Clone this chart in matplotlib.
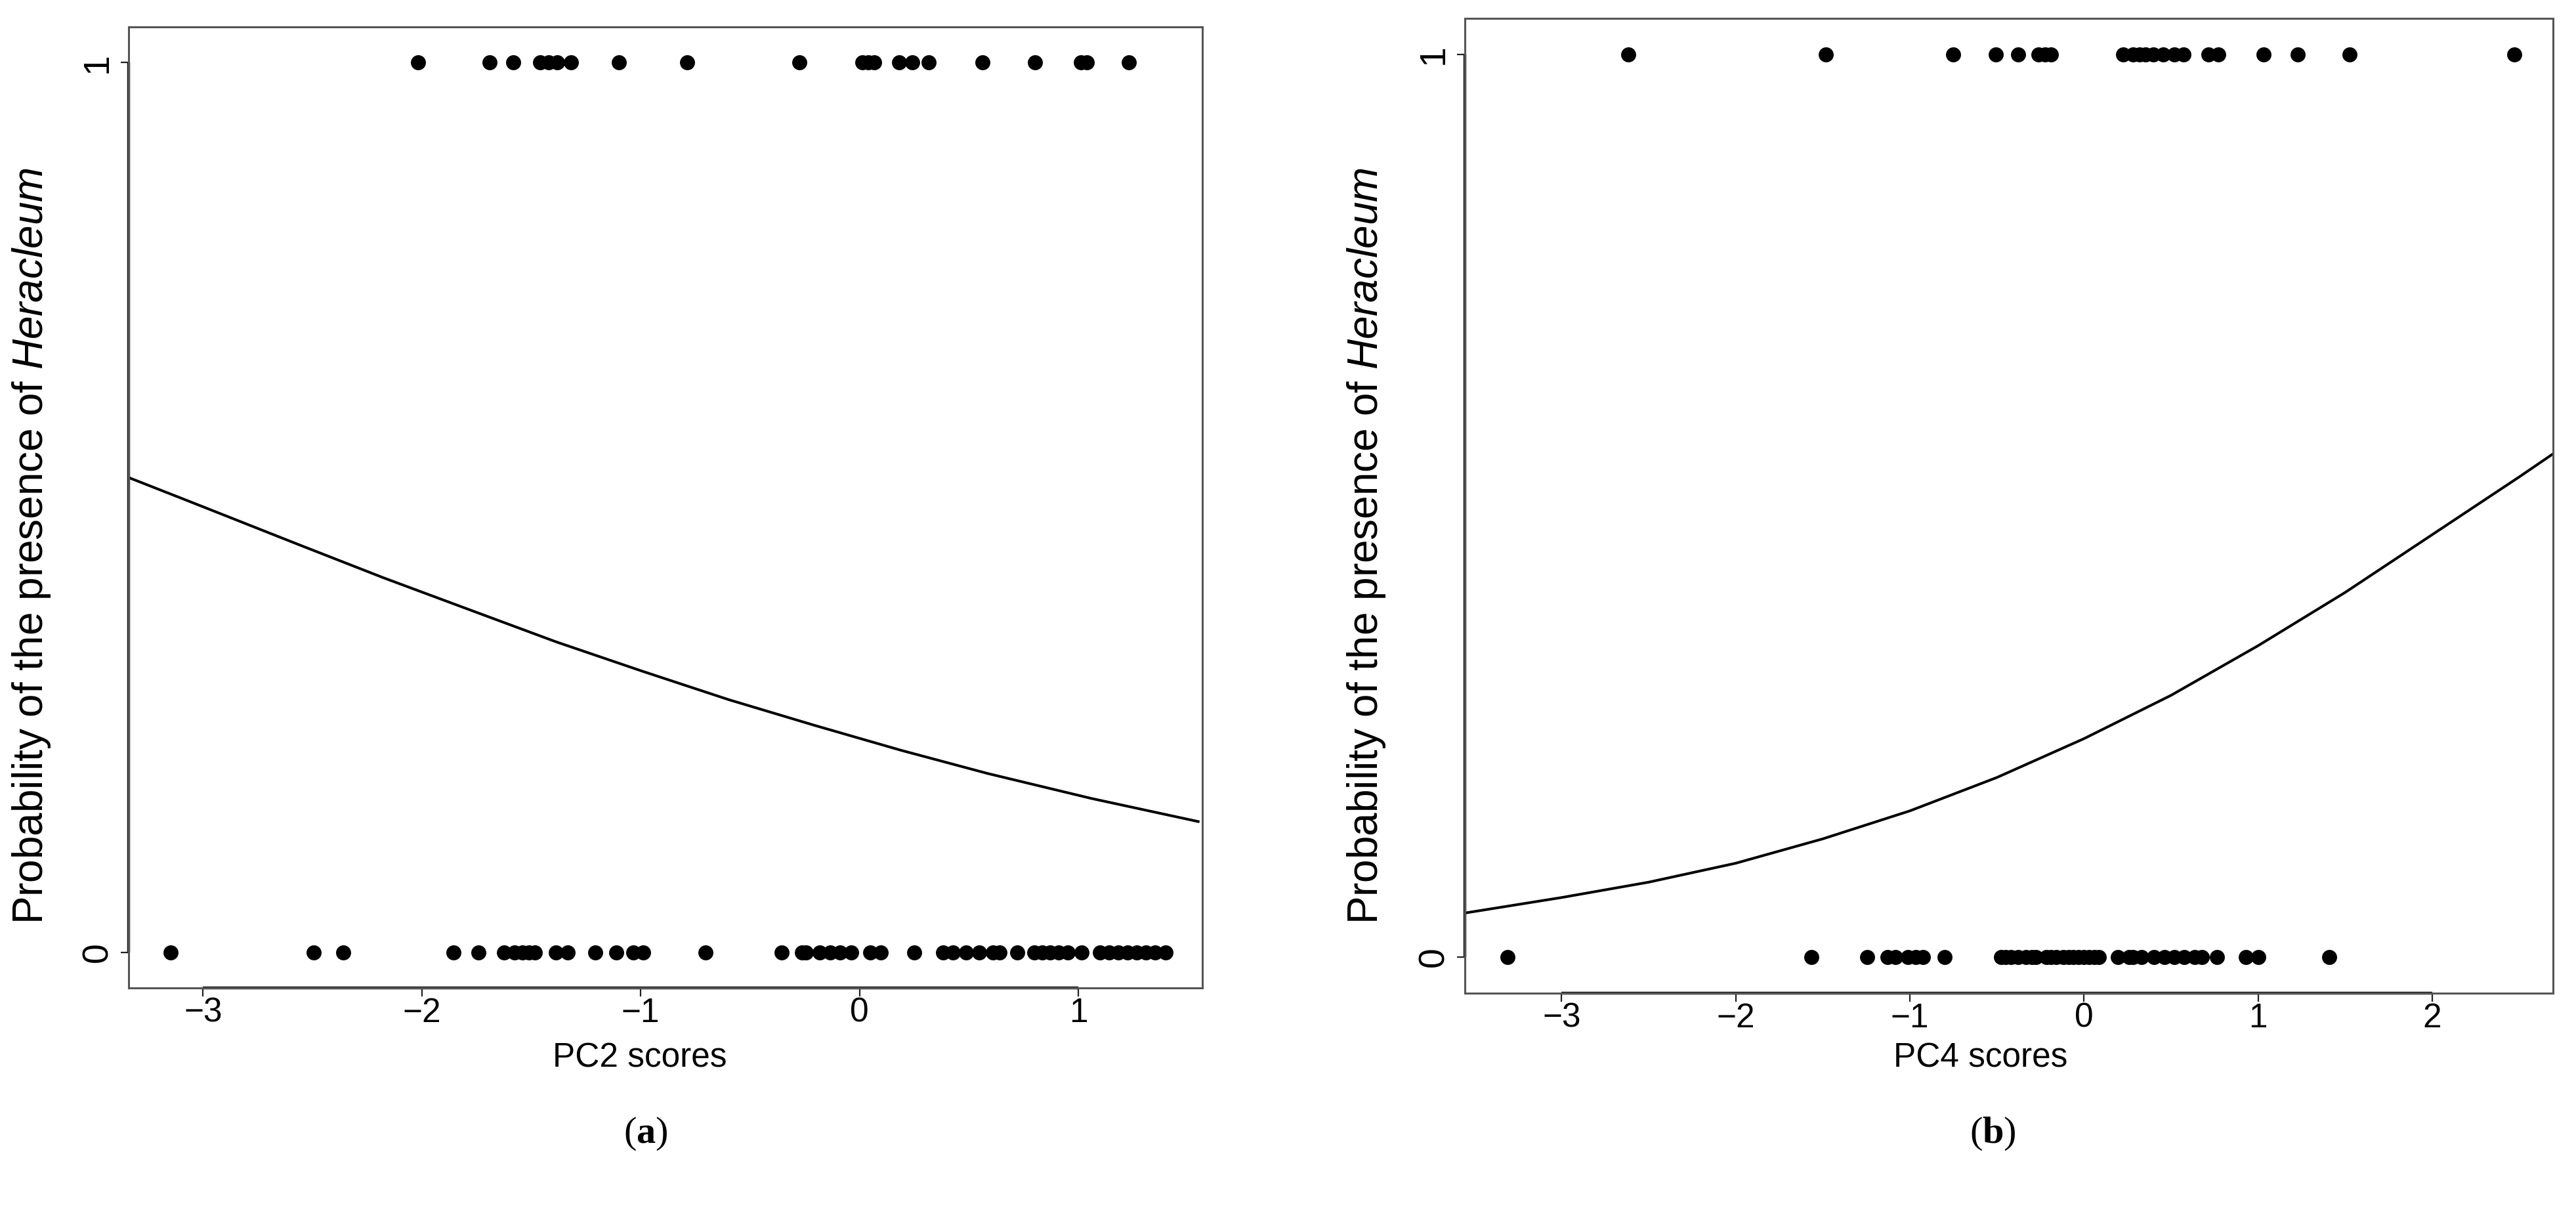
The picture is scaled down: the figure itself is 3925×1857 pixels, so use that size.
import matplotlib
matplotlib.use("Agg")
import matplotlib.pyplot as plt

# --- fonts ---
plt.rcParams['font.family'] = ['Liberation Sans', 'DejaVu Sans']
plt.rcParams['mathtext.fontset'] = 'custom'
plt.rcParams['mathtext.rm'] = 'Liberation Sans'
plt.rcParams['mathtext.it'] = 'Liberation Sans:italic'
plt.rcParams['mathtext.bf'] = 'Liberation Serif:bold'

# --- data: (a) PC2 ---
pc2_present = [-2.017, -1.691, -1.583, -1.46, -1.42, -1.38, -1.317, -1.10, -0.788,
               -0.274, 0.013, 0.04, 0.068, 0.18, 0.242, 0.317, 0.563, 0.802,
               1.013, 1.038, 1.231]
pc2_absent = [-3.149, -2.494, -2.359, -1.856, -1.741, -1.624, -1.575, -1.54, -1.51,
              -1.484, -1.387, -1.332, -1.208, -1.111, -1.033, -0.987, -0.703,
              -0.357, -0.262, -0.245, -0.181, -0.134, -0.09, -0.037, 0.05, 0.098,
              0.251, 0.382, 0.426, 0.488, 0.546, 0.61, 0.64, 0.722, 0.799, 0.835,
              0.872, 0.909, 0.951, 1.014, 1.098, 1.14, 1.182, 1.224, 1.266, 1.308,
              1.351, 1.398]
pc2_curve_x = [-3.334, -3.044, -2.571, -2.176, -1.782, -1.387, -0.993, -0.598,
               -0.204, 0.191, 0.586, 1.059, 1.548]
pc2_curve_p = [0.533, 0.505, 0.459, 0.421, 0.385, 0.349, 0.316, 0.284, 0.255,
               0.227, 0.201, 0.173, 0.147]

# --- data: (b) PC4 ---
pc4_present = [-2.616, -1.483, -0.75, -0.505, -0.377, -0.26, -0.225, -0.19, 0.224,
               0.282, 0.32, 0.354, 0.397, 0.455, 0.52, 0.571, 0.715, 0.773, 1.032,
               1.227, 1.525, 2.473]
pc4_absent = [-3.311, -1.565, -1.245, -1.127, -1.083, -1.011, -0.968, -0.925, -0.802,
              -0.477, -0.45, -0.42, -0.38, -0.333, -0.30, -0.275, -0.218, -0.19,
              -0.16, -0.12, -0.088, -0.06, -0.03, 0.0, 0.028, 0.06, 0.085, 0.194,
              0.259, 0.28, 0.331, 0.403, 0.461, 0.519, 0.576, 0.634, 0.677, 0.764,
              0.929, 1.002, 1.41]
pc4_curve_x = [-3.55, -3.0, -2.5, -2.0, -1.5, -1.0, -0.5, 0.0, 0.5, 1.0, 1.5, 2.0,
               2.5, 2.69]
pc4_curve_p = [0.049, 0.066, 0.083, 0.104, 0.131, 0.162, 0.199, 0.242, 0.290, 0.345,
               0.404, 0.468, 0.532, 0.557]

ylabel = r'Probability of the presence of $\mathit{Heracleum}$'
FS = 37
W, H = 3925, 1857


def draw_panel(ax, present, absent, cx, cp, xlim, xticks):
    ax.plot(present, [1] * len(present), 'o', color='black', markersize=16.5,
            markeredgewidth=0)
    ax.plot(absent, [0] * len(absent), 'o', color='black', markersize=16.5,
            markeredgewidth=0)
    ax.plot(cx, cp, color='black', lw=2.9)
    ax.set_xlim(xlim)
    ax.set_ylim(-0.04, 1.04)
    ax.set_xticks(xticks)
    ax.set_xticklabels([str(t).replace('-', '\u2212') for t in xticks], fontsize=FS)
    ax.set_yticks([0, 1])
    ax.set_yticklabels(['0', '1'], rotation=90, va='center', fontsize=40)
    ax.tick_params(length=9, width=1.6, color='#222222')
    ax.tick_params(axis='x', pad=1)
    ax.tick_params(axis='y', pad=6)
    for s in ax.spines.values():
        s.set_linewidth(2.2)
        s.set_color('#555555')
    # R style axis lines between first and last tick
    ax.plot([xticks[0], xticks[-1]], [-0.04, -0.04], color='#111111', lw=3.2,
            clip_on=False, solid_capstyle='butt')
    ax.plot([xlim[0], xlim[0]], [0, 1], color='#111111', lw=3.2,
            clip_on=False, solid_capstyle='butt')


fig = plt.figure(figsize=(W / 100, H / 100), dpi=100)
ax1 = fig.add_axes([196 / W, 1 - 1505 / H, (1832 - 196) / W, (1505 - 41) / H])
ax2 = fig.add_axes([2232 / W, 1 - 1513 / H, (3890 - 2232) / W, (1513 - 28) / H])

draw_panel(ax1, pc2_present, pc2_absent, pc2_curve_x, pc2_curve_p,
           (-3.34, 1.567), [-3, -2, -1, 0, 1])
draw_panel(ax2, pc4_present, pc4_absent, pc4_curve_x, pc4_curve_p,
           (-3.556, 2.694), [-3, -2, -1, 0, 1, 2])

# axis titles
fig.text(975 / W, 1 - 1612 / H, 'PC2 scores', fontsize=FS,
         ha='center', va='center')
fig.text(3018 / W, 1 - 1612 / H, 'PC4 scores', fontsize=FS,
         ha='center', va='center')
fig.text(48 / W, 1 - 832 / H, ylabel, fontsize=46, rotation=90,
         ha='center', va='center')
fig.text(2082 / W, 1 - 832 / H, ylabel, fontsize=46, rotation=90,
         ha='center', va='center')

# panel letters
fig.text(984 / W, 1 - 1727 / H, r'($\mathbf{a}$)', fontsize=42,
         family='Liberation Serif', ha='center', va='center')
fig.text(3036 / W, 1 - 1727 / H, r'($\mathbf{b}$)', fontsize=42,
         family='Liberation Serif', ha='center', va='center')

fig.savefig('out.png', dpi=100)
